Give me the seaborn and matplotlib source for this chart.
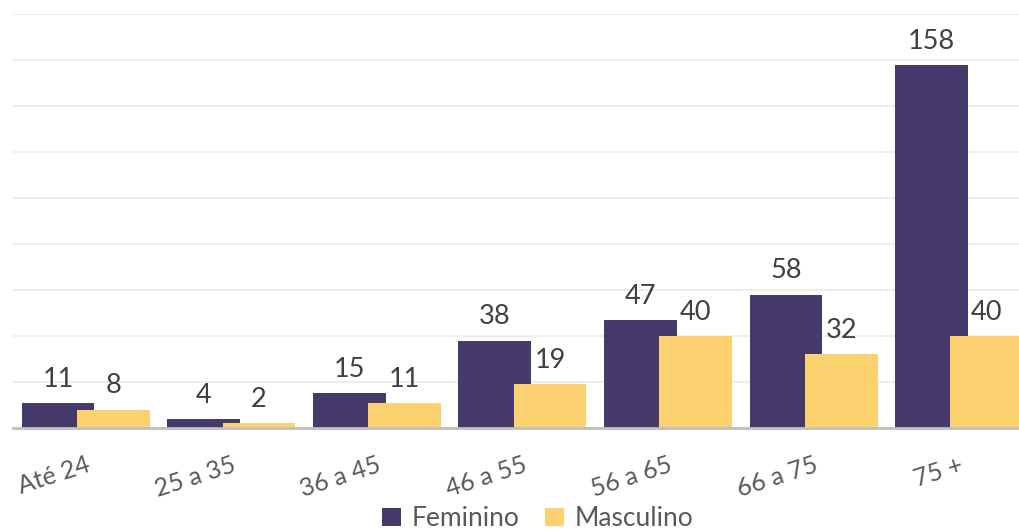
import pandas as pd
import matplotlib.pyplot as plt
import seaborn as sns

faixas = ['Até 24', '25 a 35', '36 a 45', '46 a 55', '56 a 65', '66 a 75', '75 +']
feminino = [11, 4, 15, 38, 47, 58, 158]
masculino = [8, 2, 11, 19, 40, 32, 40]
sexos = ['Feminino', 'Masculino']
cores = ['#453A6B', '#FCD16F']

df = pd.DataFrame({
    'faixa': faixas * 2,
    'sexo': ['Feminino'] * len(faixas) + ['Masculino'] * len(faixas),
    'valor': feminino + masculino,
})

sns.set_style('white')
plt.rcParams['font.family'] = ['Lato', 'DejaVu Sans']

fig = plt.figure(figsize=(10.2, 5.31), dpi=100)
ax = fig.add_axes([0.0127, 0.194, 0.999, 0.7796])

sns.barplot(data=df, x='faixa', y='valor', hue='sexo', order=faixas,
            hue_order=sexos, palette=cores, width=0.9, saturation=1,
            errorbar=None, linewidth=0, ax=ax, legend=True)

# barras sobrepostas como no Excel: largura 0.5, centros em +-0.19
larg = 0.5
desloc = 0.19
for p in ax.patches:
    if p.get_height() == 0 and p.get_width() == 0:
        continue
    c = p.get_x() + p.get_width() / 2
    grupo = round(c)
    sinal = -1 if c < grupo else 1
    p.set_width(larg)
    p.set_x(grupo + sinal * desloc - larg / 2)
    p.set_edgecolor('none')

for cont in ax.containers:
    for p in cont:
        v = p.get_height()
        ax.annotate(f'{v:.0f}', (p.get_x() + p.get_width() / 2, v),
                    xytext=(0, 8), textcoords='offset points',
                    ha='center', va='bottom', fontsize=19.5, color='#404040')

ax.set_ylim(0, 180)
ax.set_xlim(-0.5, 6.5)
ax.set_yticks(range(0, 181, 20))
ax.set_yticklabels([])
ax.yaxis.grid(True, color='#EDEDED', linewidth=1.5)
ax.set_axisbelow(True)
for s in ['top', 'right', 'left']:
    ax.spines[s].set_visible(False)
ax.spines['bottom'].set_color('#BFBFBF')
ax.spines['bottom'].set_linewidth(2)
ax.tick_params(axis='y', length=0)
ax.tick_params(axis='x', length=0, pad=18, labelsize=18, labelcolor='#595959')
plt.setp(ax.get_xticklabels(), rotation=18, ha='right', rotation_mode='anchor')
ax.set_xlabel('')
ax.set_ylabel('')

ax.legend(loc='lower center', bbox_to_anchor=(0.515, -0.252), ncol=2, frameon=False,
          fontsize=19, labelcolor='#595959', handlelength=0.7, handleheight=0.7,
          handletextpad=0.4, columnspacing=1.0, borderaxespad=0, borderpad=0.05)

plt.savefig('out.png', dpi=100)
